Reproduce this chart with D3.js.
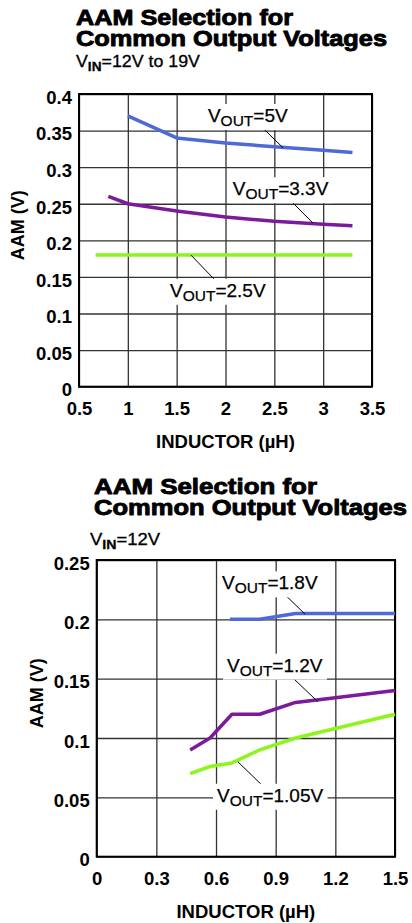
<!DOCTYPE html>
<html>
<head>
<meta charset="utf-8">
<script src="https://cdn.jsdelivr.net/npm/d3@7"></script>
<style>
  html, body { margin: 0; padding: 0; background: #fff; }
  svg { display: block; }
  text { font-family: "Liberation Sans", Arial, sans-serif; }
</style>
</head>
<body>
<svg id="chart" width="412" height="923"></svg>
<script>
// ---- Chart 1: VIN = 12V to 19V ----
const top5X   = [1, 1.5, 2, 2.5, 3, 3.3];
const top5Y   = [0.37, 0.34, 0.333, 0.328, 0.323, 0.32];
const top33X  = [0.8, 1, 1.5, 2, 2.5, 3, 3.3];
const top33Y  = [0.26, 0.25, 0.24, 0.232, 0.226, 0.222, 0.22];
const top25X  = [0.67, 3.3];
const top25Y  = [0.18, 0.18];
const topXTicks = [0.5, 1, 1.5, 2, 2.5, 3, 3.5];
const topYTicks = [0, 0.05, 0.1, 0.15, 0.2, 0.25, 0.3, 0.35, 0.4];

// ---- Chart 2: VIN = 12V ----
const bot18X  = [0.67, 0.82, 1.0, 1.5];
const bot18Y  = [0.2, 0.2, 0.205, 0.205];
const bot12X  = [0.47, 0.57, 0.68, 0.82, 1.0, 1.2, 1.5];
const bot12Y  = [0.09, 0.1, 0.12, 0.12, 0.13, 0.134, 0.14];
const bot105X = [0.47, 0.57, 0.68, 0.82, 1.0, 1.5];
const bot105Y = [0.07, 0.076, 0.079, 0.09, 0.1, 0.12];
const botXTicks = [0, 0.3, 0.6, 0.9, 1.2, 1.5];
const botYTicks = [0, 0.05, 0.1, 0.15, 0.2, 0.25];

const COLORS = { blue: "#4d6ad6", purple: "#7c1a9c", green: "#8cf51c" };

const svg = d3.select("#chart");

function zip(xs, ys) { return xs.map((x, i) => ({ x, y: ys[i] })); }

function drawChart(cfg) {
  const g = svg.append("g");
  const x = d3.scaleLinear().domain(cfg.xDomain).range([cfg.left, cfg.right]);
  const y = d3.scaleLinear().domain(cfg.yDomain).range([cfg.bottom, cfg.top]);
  const w = cfg.right - cfg.left, h = cfg.bottom - cfg.top;

  // Title block: two heavy lines in one text element
  const title = g.append("text")
    .attr("font-size", 22.5).attr("font-weight", "bold")
    .attr("stroke", "#000").attr("stroke-width", 0.9).attr("stroke-linejoin", "round");
  title.append("tspan").attr("x", cfg.titleX).attr("y", cfg.title1Y)
    .attr("textLength", cfg.title1W).attr("lengthAdjust", "spacingAndGlyphs")
    .text("AAM Selection for");
  title.append("tspan").attr("x", cfg.titleX).attr("y", cfg.title2Y)
    .attr("textLength", cfg.title2W).attr("lengthAdjust", "spacingAndGlyphs")
    .text("Common Output Voltages");

  const sub = g.append("text").attr("x", cfg.subX).attr("y", cfg.subY)
    .attr("font-size", 17).attr("stroke", "#000").attr("stroke-width", 0.3)
    .attr("textLength", cfg.subW).attr("lengthAdjust", "spacingAndGlyphs");
  sub.append("tspan").text("V");
  sub.append("tspan").attr("font-size", 13).attr("font-weight", "bold").attr("dy", 4).text("IN");
  sub.append("tspan").attr("dy", -4).text(cfg.subText);

  // Grid via axes
  const gy = g.append("g").attr("transform", `translate(${cfg.left},0)`)
    .call(d3.axisLeft(y).tickValues(cfg.yTicks).tickSize(-w).tickPadding(7)
      .tickFormat(d => String(+d.toFixed(2))));
  gy.select(".domain").remove();
  gy.selectAll(".tick line").attr("stroke", "#333").attr("stroke-width", 1.3);
  gy.selectAll(".tick text").attr("font-size", 18.5).attr("font-weight", "bold")
    .attr("fill", "#000").attr("dy", "0.5em")
    .attr("font-family", "'Liberation Sans', Arial, sans-serif");

  const gx = g.append("g").attr("transform", `translate(0,${cfg.bottom})`)
    .call(d3.axisBottom(x).tickValues(cfg.xTicks).tickSize(-h).tickPadding(0)
      .tickFormat(d => String(+d.toFixed(2))));
  gx.select(".domain").remove();
  gx.selectAll(".tick line").attr("stroke", "#333").attr("stroke-width", 1.3);
  gx.selectAll(".tick text").attr("font-size", 18.5).attr("font-weight", "bold")
    .attr("fill", "#000").attr("dy", 0).attr("y", 28.3)
    .attr("font-family", "'Liberation Sans', Arial, sans-serif");

  // Frame
  g.append("rect").attr("x", cfg.left).attr("y", cfg.top).attr("width", w).attr("height", h)
    .attr("fill", "none").attr("stroke", "#000").attr("stroke-width", 2);

  // Axis titles
  g.append("text").attr("x", (cfg.left + cfg.right) / 2).attr("y", cfg.bottom + 61.3)
    .attr("text-anchor", "middle").attr("font-size", 18.5).attr("font-weight", "bold")
    .text("INDUCTOR (µH)");
  g.append("text")
    .attr("transform", `translate(${cfg.left - cfg.yTitleOff},${(cfg.top + cfg.bottom) / 2 - 15}) rotate(-90)`)
    .attr("text-anchor", "middle").attr("font-size", 18).attr("font-weight", "bold")
    .text("AAM (V)");

  // Series lines
  const line = d3.line().x(d => x(d.x)).y(d => y(d.y));
  cfg.series.forEach(s => {
    g.append("path").datum(zip(s.xs, s.ys))
      .attr("fill", "none").attr("stroke", s.color).attr("stroke-width", 3.5)
      .attr("stroke-linejoin", "round").attr("d", line);
  });

  // Callout labels with leader lines
  cfg.labels.forEach(L => {
    g.append("line")
      .attr("x1", x(L.from[0])).attr("y1", y(L.from[1]))
      .attr("x2", x(L.to[0])).attr("y2", y(L.to[1]))
      .attr("stroke", "#000").attr("stroke-width", 1);
    const lg = g.append("g");
    const bg = lg.append("rect").attr("fill", "#fff");
    const t = lg.append("text").attr("x", x(L.at[0])).attr("y", y(L.at[1]))
      .attr("font-size", 19).attr("stroke", "#000").attr("stroke-width", 0.25);
    t.append("tspan").text("V");
    t.append("tspan").attr("font-size", 15.5).attr("dy", 4).text("OUT");
    t.append("tspan").attr("dy", -4).text("=" + L.text);
    const bb = t.node().getBBox();
    bg.attr("x", bb.x - 4).attr("y", bb.y - 1).attr("width", bb.width + 8).attr("height", bb.height + 2);
  });
}

drawChart({
  left: 79, right: 372, top: 94, bottom: 386.7,
  xDomain: [0.5, 3.5], yDomain: [0, 0.4],
  xTicks: topXTicks, yTicks: topYTicks,
  titleX: 76, title1Y: 24.5, title2Y: 45.7, title1W: 217, title2W: 311,
  subX: 76, subY: 66.5, subText: "=12V to 19V", subW: 124,
  yTitleOff: 55,
  series: [
    { xs: top5X, ys: top5Y, color: COLORS.blue },
    { xs: top33X, ys: top33Y, color: COLORS.purple },
    { xs: top25X, ys: top25Y, color: COLORS.green }
  ],
  labels: [
    { text: "5V",   at: [1.82, 0.3618],  from: [2.343, 0.3586], to: [2.589, 0.3265] },
    { text: "3.3V", at: [2.074, 0.2617], from: [2.64, 0.258],   to: [2.896, 0.2235] },
    { text: "2.5V", at: [1.432, 0.1229], from: [1.647, 0.1798], to: [1.913, 0.1429] }
  ]
});

drawChart({
  left: 96.7, right: 395, top: 560, bottom: 856.7,
  xDomain: [0, 1.5], yDomain: [0, 0.25],
  xTicks: botXTicks, yTicks: botYTicks,
  titleX: 94, title1Y: 494, title2Y: 515, title1W: 223, title2W: 313,
  subX: 90, subY: 545, subText: "=12V", subW: 70,
  yTitleOff: 54,
  series: [
    { xs: bot18X, ys: bot18Y, color: COLORS.blue },
    { xs: bot12X, ys: bot12Y, color: COLORS.purple },
    { xs: bot105X, ys: bot105Y, color: COLORS.green }
  ],
  labels: [
    { text: "1.8V",  at: [0.63, 0.2253],  from: [0.931, 0.2233], to: [1.047, 0.2045] },
    { text: "1.2V",  at: [0.655, 0.1559], from: [0.971, 0.1531], to: [1.112, 0.1306] },
    { text: "1.05V", at: [0.605, 0.0463], from: [0.71, 0.08],     to: [0.846, 0.0579] }
  ]
});
</script>
</body>
</html>
